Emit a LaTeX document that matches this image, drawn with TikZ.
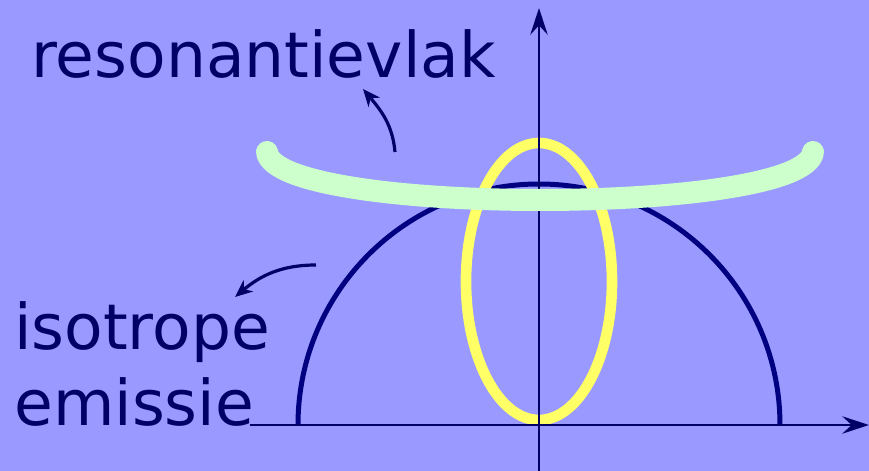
\documentclass[tikz,border=0pt]{standalone}
\usepackage{fontspec}
\setmainfont{DejaVu Sans}
\usetikzlibrary{arrows.meta}
\definecolor{bgblue}{HTML}{9999FF}
\definecolor{darknavy}{HTML}{000066}
\definecolor{circnavy}{HTML}{000080}
\definecolor{lightyellow}{HTML}{FFFF66}
\definecolor{palegreen}{HTML}{CCFFCC}
\tikzset{
  axisline/.style={draw=darknavy, line width=1.9pt, -{Stealth[length=20pt, width=13pt, inset=7pt]}},
  pointer/.style={draw=darknavy, line width=2.4pt, -{Stealth[length=13pt, width=11pt, inset=4pt]}},
  bigtext/.style={text=darknavy, inner sep=0pt, anchor=base west, font=\fontsize{47.3}{57}\selectfont}
}

\begin{document}
\begin{tikzpicture}[x=0.75pt, y=0.75pt]
\fill[bgblue] (-539,-46) rectangle (330,425);
\useasboundingbox (-539,-46) rectangle (330,425);
% isotropic emission
\draw[circnavy, line width=3.75pt] (-241,0) arc[start angle=180, end angle=0, radius=241];
% resonance ellipse
\draw[lightyellow, line width=8pt] (0,143.5) ellipse[x radius=73, y radius=138.5];
% axes
\coordinate (xstart) at (-289,0);
\coordinate (xend) at (330,0);
\coordinate (ystart) at (0,-46);
\coordinate (yend) at (0,417);
\draw[axisline] (xstart) -- (xend);
\draw[axisline] (ystart) -- (yend);
% resonance plane
\draw[palegreen, line width=16.5pt, line cap=round]
  (-272,273) .. controls (-264,209) and (266,209) .. (274,273);
% labels
\node[bigtext] (plane) at (-508,347) {resonantievlak};
\node[bigtext] (iso) at (-525,75) {isotrope};
\node[bigtext] (emis) at (-525,-1) {emissie};
\coordinate (planefoot) at (-144,273);
\coordinate (planetip) at (-176,336);
\coordinate (isofoot) at (-223,160);
\coordinate (isotip) at (-304,128);
\draw[pointer] (planefoot) to[out=95, in=-50] (planetip);
\draw[pointer] (isofoot) to[out=180, in=40] (isotip);
\end{tikzpicture}
\end{document}
